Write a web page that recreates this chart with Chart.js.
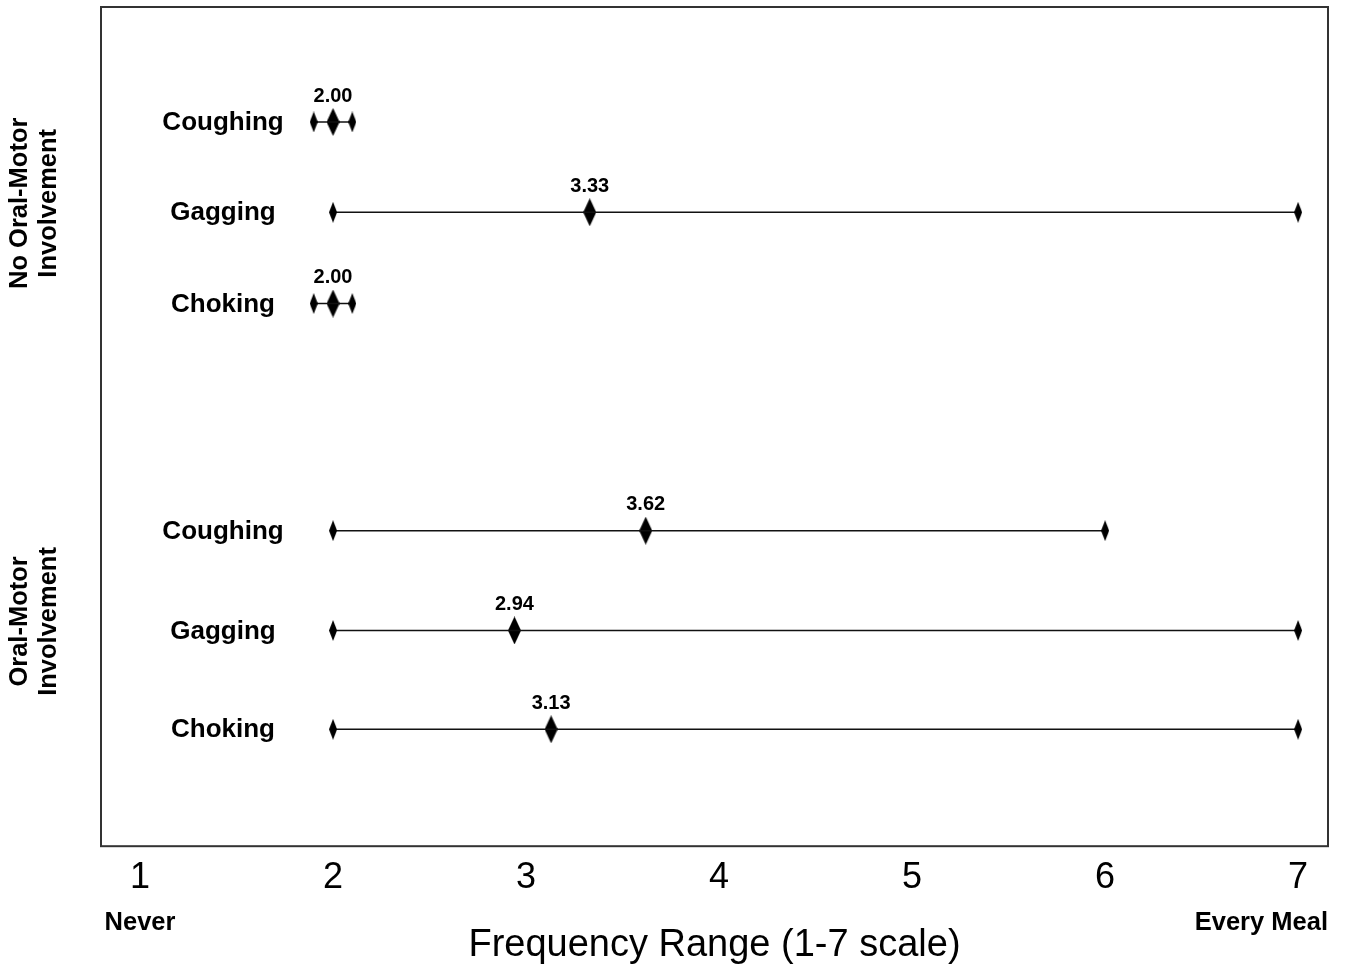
<!DOCTYPE html>
<html>
<head>
<meta charset="utf-8">
<script src="https://cdn.jsdelivr.net/npm/chart.js@4.4.1/dist/chart.umd.min.js"></script>
<style>
  body { margin: 0; background: #fff; }
  #wrap { width: 1346px; height: 965px; }
</style>
</head>
<body>
<div id="wrap"><canvas id="freq-chart"></canvas></div>
<script>
// data
const groups = ['No Oral-Motor|Involvement', 'Oral-Motor|Involvement'];
const behaviours = ['Coughing', 'Gagging', 'Choking', 'Coughing', 'Gagging', 'Choking'];
const minValues = [1.9, 2, 1.9, 2, 2, 2];
const maxValues = [2.1, 7, 2.1, 6, 7, 7];
const meanValues = [2.00, 3.33, 2.00, 3.62, 2.94, 3.13];
const tickValues = [1, 2, 3, 4, 5, 6, 7];

// vertical slot of each row (layout only)
const rowPos = [1.21, 2.16, 3.12, 5.51, 6.56, 7.60];

function diamond(w, h) {
    var c = document.createElement('canvas');
    c.width = w; c.height = h;
    var g = c.getContext('2d');
    g.fillStyle = '#000';
    g.beginPath();
    g.moveTo(w / 2, 0);
    g.lineTo(w, h / 2);
    g.lineTo(w / 2, h);
    g.lineTo(0, h / 2);
    g.closePath();
    g.fill();
    return c;
}
var bigDiamond = diamond(13, 28);
var smallDiamond = diamond(8, 21);

var datasets = [];
behaviours.forEach(function(b, i) {
    datasets.push({
        label: b + ' range',
        data: [{x: minValues[i], y: rowPos[i]}, {x: maxValues[i], y: rowPos[i]}],
        showLine: true,
        borderColor: '#111',
        borderWidth: 1.5,
        pointStyle: smallDiamond,
        clip: false
    });
});
datasets.push({
    label: 'mean',
    data: meanValues.map(function(v, i) { return {x: v, y: rowPos[i]}; }),
    showLine: false,
    pointStyle: bigDiamond,
    clip: false
});

var FONT = '"Liberation Sans", Arial, sans-serif';

var extras = {
    id: 'extras',
    afterDraw: function(chart) {
        var ctx = chart.ctx, a = chart.chartArea;
        var xs = chart.scales.x, ys = chart.scales.y;
        ctx.save();
        ctx.strokeStyle = '#333';
        ctx.lineWidth = 2;
        ctx.strokeRect(a.left, a.top, a.right - a.left, a.bottom - a.top);

        ctx.fillStyle = '#000';
        ctx.textBaseline = 'middle';
        ctx.textAlign = 'center';
        // row labels
        ctx.font = 'bold 26px ' + FONT;
        behaviours.forEach(function(b, i) {
            ctx.fillText(b, 223, ys.getPixelForValue(rowPos[i]) + 1);
        });
        // mean values
        ctx.font = 'bold 20px ' + FONT;
        meanValues.forEach(function(v, i) {
            ctx.fillText(v.toFixed(2), xs.getPixelForValue(v), ys.getPixelForValue(rowPos[i]) - 26);
        });
        // group labels
        ctx.font = 'bold 25.5px ' + FONT;
        groups.forEach(function(g, k) {
            var mid = ys.getPixelForValue(rowPos[k * 3 + 1]) - 9;
            var lines = g.split('|');
            ctx.save();
            ctx.translate(0, mid);
            ctx.rotate(-Math.PI / 2);
            ctx.fillText(lines[0], 0, 20);
            ctx.fillText(lines[1], 0, 49);
            ctx.restore();
        });
        // scale ends
        ctx.fillText('Never', xs.getPixelForValue(1), 923);
        ctx.textAlign = 'right';
        ctx.fillText('Every Meal', a.right, 923);
        ctx.restore();
    }
};

new Chart(document.getElementById('freq-chart'), {
    type: 'scatter',
    data: { datasets: datasets },
    options: {
        responsive: true,
        maintainAspectRatio: false,
        animation: false,
        layout: { padding: { left: 101, right: 18, top: 7, bottom: 0 } },
        plugins: { legend: { display: false }, tooltip: { enabled: false } },
        scales: {
            x: {
                type: 'linear',
                min: 0.798,
                max: 7.155,
                afterBuildTicks: function(scale) {
                    scale.ticks = tickValues.map(function(v) { return {value: v}; });
                },
                grid: { display: false, drawTicks: false },
                border: { display: false },
                ticks: {
                    color: '#000',
                    padding: 10,
                    maxRotation: 0,
                    font: { family: FONT, size: 36 }
                },
                title: {
                    display: true,
                    text: 'Frequency Range (1-7 scale)',
                    color: '#000',
                    padding: { top: 13, bottom: -3 },
                    font: { family: FONT, size: 38 }
                }
            },
            y: {
                type: 'linear',
                reverse: true,
                min: 0,
                max: 8.83,
                display: false
            }
        }
    },
    plugins: [extras]
});
</script>
</body>
</html>
